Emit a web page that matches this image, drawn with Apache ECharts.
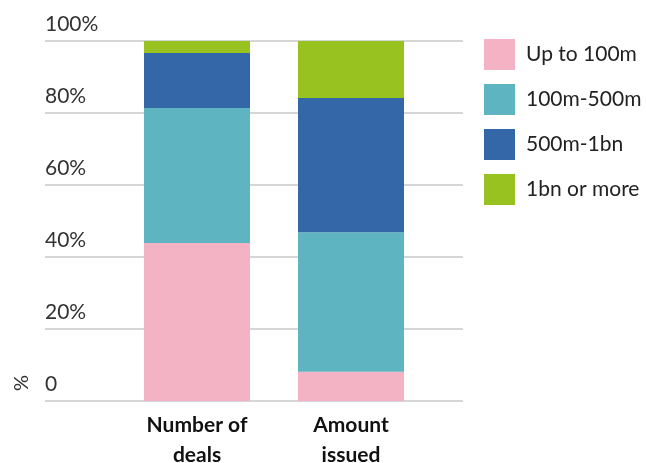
<!DOCTYPE html>
<html>
<head>
<meta charset="utf-8">
<script src="https://cdn.jsdelivr.net/npm/echarts@6/dist/echarts.min.js"></script>
<style>
  html, body { margin: 0; padding: 0; background: #fff; }
  #chart { width: 646px; height: 463px; }
</style>
</head>
<body>
<div id="chart"></div>
<script>
// categories and series (share of total, %)
const categories = ['Number of\ndeals', 'Amount\nissued'];
const seriesNames = ['Up to 100m', '100m-500m', '500m-1bn', '1bn or more'];
const upTo100m = [43.9, 8.1];
const m100to500 = [37.5, 38.8];
const m500to1bn = [15.3, 37.3];
const bn1OrMore = [3.3, 15.8];
const yTicks = [0, 20, 40, 60, 80, 100];

const colors = ['#f4b3c4', '#5eb5c1', '#3467a8', '#97c21f'];
const seriesData = [upTo100m, m100to500, m500to1bn, bn1OrMore];
const font = 'Lato, "Open Sans", sans-serif';

let myChart = echarts.init(document.getElementById('chart'));

myChart.setOption({
    animation: false,
    color: colors,
    textStyle: { fontFamily: font },
    legend: {
        orient: 'vertical',
        left: 484,
        top: 39,
        padding: 0,
        itemWidth: 31,
        itemHeight: 31,
        itemGap: 14,
        icon: 'rect',
        data: seriesNames,
        textStyle: { fontSize: 21, color: '#222', fontFamily: font, padding: [0, 0, 0, 6] }
    },
    graphic: [{
        type: 'text',
        left: 12,
        top: 375,
        rotation: Math.PI / 2,
        style: { text: '%', fontSize: 20, fill: '#333', fontFamily: font }
    }],
    grid: [
        // grid for gridlines + y labels
        { left: 45, right: 183, top: 41, bottom: 62, outerBoundsMode: 'none' },
        // grid for the bars
        { left: 120, width: 308, top: 41, bottom: 62, outerBoundsMode: 'none' }
    ],
    xAxis: [
        { gridIndex: 0, type: 'category', data: categories, show: false },
        {
            gridIndex: 1,
            type: 'category',
            data: categories,
            axisLine: { show: false },
            axisTick: { show: false },
            axisLabel: {
                margin: 9,
                fontSize: 21,
                fontWeight: 'bold',
                color: '#111',
                lineHeight: 30,
                fontFamily: font
            }
        }
    ],
    yAxis: [
        {
            gridIndex: 0,
            type: 'value',
            min: yTicks[0],
            max: yTicks[yTicks.length - 1],
            interval: 20,
            axisLine: { show: false },
            axisTick: { show: false },
            splitLine: { show: true, lineStyle: { color: '#c9c9cd', width: 1.5 } },
            axisLabel: {
                inside: true,
                margin: 0,
                verticalAlign: 'bottom',
                padding: [0, 0, 6, 0],
                fontSize: 21,
                color: '#333',
                fontFamily: font,
                formatter: function (v) { return v === 0 ? '0' : v + '%'; }
            }
        },
        { gridIndex: 1, type: 'value', min: 0, max: 100, show: false }
    ],
    series: seriesNames.map(function (name, i) {
        return {
            name: name,
            type: 'bar',
            stack: 'total',
            xAxisIndex: 1,
            yAxisIndex: 1,
            barWidth: 106,
            data: seriesData[i]
        };
    })
});
</script>
</body>
</html>
